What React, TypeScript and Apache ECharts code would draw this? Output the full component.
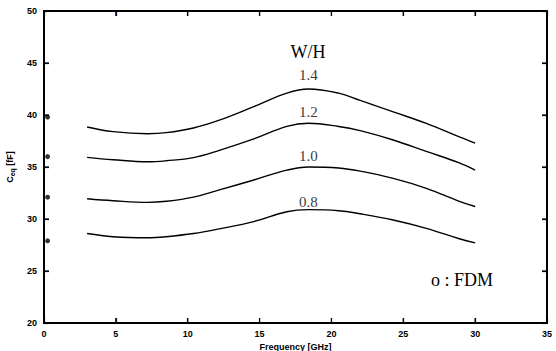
import React, { useEffect, useRef } from "react";
import * as echarts from "echarts";

// Frequency sample points (GHz)
const freq = [3, 4.8, 7.2, 8.5, 10.4, 12.2, 14.6, 16.9, 18.4, 20.5, 22, 24.3, 26.6, 28.9, 30];

// Equivalent capacitance curves (fF) for each W/H ratio
const ceq14 = [38.85, 38.4, 38.2, 38.3, 38.75, 39.5, 40.8, 42.1, 42.5, 42.1, 41.4, 40.3, 39.2, 37.9, 37.3];
const ceq12 = [35.93, 35.7, 35.5, 35.6, 35.9, 36.6, 37.7, 38.9, 39.2, 38.9, 38.5, 37.6, 36.5, 35.4, 34.7];
const ceq10 = [31.95, 31.76, 31.6, 31.7, 32.1, 32.8, 33.75, 34.7, 35.0, 34.9, 34.6, 33.9, 32.95, 31.7, 31.2];
const ceq08 = [28.6, 28.3, 28.2, 28.3, 28.6, 29.05, 29.75, 30.7, 30.9, 30.8, 30.5, 29.9, 29.1, 28.1, 27.7];

const ratios = ["1.4", "1.2", "1.0", "0.8"];
const curves = [ceq14, ceq12, ceq10, ceq08];
const labelLift = [14, 11, 11, 8];

// FDM reference points (static limit)
const fdmFreq = 0.25;
const fdmValues = [39.8, 36.0, 32.1, 27.9];

const xTicks = [0, 35, 5];
const yTicks = [20, 50, 5];
const xTickValues = [5, 10, 15, 20, 25, 30];
const yTickValues = [25, 30, 35, 40, 45];

const INK = "#000";
const FRAME = "#0a0a5a";

export default function App() {
  const ref = useRef<HTMLDivElement>(null);

  useEffect(() => {
    if (!ref.current) return;
    const chart = echarts.init(ref.current, null, { renderer: "svg" });

    const tickFont = {
      fontFamily: "Liberation Sans",
      fontWeight: "bold" as const,
      fontSize: 9,
      color: INK,
    };

    const lineSeries = curves.map((vals, i) => ({
      type: "line",
      name: ratios[i],
      data: freq.map((f, k) => [f, vals[k]]),
      smooth: 0.4,
      showSymbol: false,
      lineStyle: { color: INK, width: 1.4 },
    }));

    // W/H value written just above each curve's peak
    const peakLabels = curves.map((vals, i) => {
      let peakIdx = 0;
      vals.forEach((v, k) => {
        if (v > vals[peakIdx]) peakIdx = k;
      });
      return {
        type: "scatter",
        name: "W/H " + ratios[i],
        data: [[freq[peakIdx], vals[peakIdx]]],
        symbolSize: 0,
        label: {
          show: true,
          formatter: ratios[i],
          position: "inside",
          offset: [0, -labelLift[i]],
          fontFamily: "Liberation Serif",
          fontSize: 15,
          color: INK,
        },
      };
    });

    const axisLineStyle = (w: number) => ({ show: true, onZero: false, lineStyle: { color: FRAME, width: w } });
    const tickStyle = () => ({ show: true, inside: true, length: 5, lineStyle: { color: FRAME, width: 1.2 } });

    chart.setOption({
      animation: false,
      backgroundColor: "#fff",
      grid: {
        left: 44,
        right: 9,
        top: 11,
        bottom: 28,
        containLabel: false,
        outerBoundsMode: "none",
      },
      xAxis: [
        {
          type: "value",
          min: xTicks[0],
          max: xTicks[1],
          interval: xTicks[2],
          name: "Frequency [GHz]",
          nameLocation: "middle",
          nameGap: 19,
          nameTextStyle: { ...tickFont },
          axisLine: axisLineStyle(2),
          axisTick: tickStyle(),
          axisLabel: { ...tickFont, margin: 6 },
          splitLine: { show: false },
        },
        {
          type: "value",
          position: "top",
          min: xTicks[0],
          max: xTicks[1],
          interval: xTicks[2],
          axisLine: axisLineStyle(1.5),
          axisTick: tickStyle(),
          axisLabel: { show: false },
          splitLine: { show: false },
        },
      ],
      yAxis: [
        {
          type: "value",
          min: yTicks[0],
          max: yTicks[1],
          interval: yTicks[2],
          name: "{a|C}{b|eq}{a| [fF]}",
          nameLocation: "middle",
          nameGap: 27,
          nameTextStyle: {
            rich: {
              a: { ...tickFont },
              b: { ...tickFont, fontSize: 7, padding: [5, 0, 0, 0] },
            },
          },
          axisLine: axisLineStyle(2),
          axisTick: tickStyle(),
          axisLabel: { ...tickFont, margin: 7 },
          splitLine: { show: false },
        },
        {
          type: "value",
          position: "right",
          min: yTicks[0],
          max: yTicks[1],
          interval: yTicks[2],
          axisLine: axisLineStyle(2),
          axisTick: tickStyle(),
          axisLabel: { show: false },
          splitLine: { show: false },
        },
      ],
      series: [
        ...lineSeries,
        ...peakLabels,
        {
          type: "scatter",
          name: "FDM",
          data: fdmValues.map((v) => [fdmFreq, v]),
          symbol: "circle",
          symbolSize: 5,
          clip: false,
          itemStyle: { color: INK },
        },
      ],
    });

    // Plot frame and inward ticks, positioned through the axis scales
    const px = (x: number, y: number) =>
      chart.convertToPixel({ xAxisIndex: 0, yAxisIndex: 0 }, [x, y]) as number[];
    const [x0, y0] = px(xTicks[0], yTicks[0]);
    const [x1, y1] = px(xTicks[1], yTicks[1]);
    const frameStyle = { stroke: INK, lineWidth: 2, fill: null };
    const tickLines: any[] = [];
    xTickValues.forEach((v) => {
      const [tx] = px(v, yTicks[0]);
      tickLines.push({ type: "line", shape: { x1: tx, y1: y0, x2: tx, y2: y0 - 5 }, style: { stroke: INK, lineWidth: 1.2 } });
      tickLines.push({ type: "line", shape: { x1: tx, y1: y1, x2: tx, y2: y1 + 5 }, style: { stroke: INK, lineWidth: 1.2 } });
    });
    yTickValues.forEach((v) => {
      const [, ty] = px(xTicks[0], v);
      tickLines.push({ type: "line", shape: { x1: x0, y1: ty, x2: x0 + 5, y2: ty }, style: { stroke: INK, lineWidth: 1.2 } });
      tickLines.push({ type: "line", shape: { x1: x1, y1: ty, x2: x1 - 5, y2: ty }, style: { stroke: INK, lineWidth: 1.2 } });
    });

    chart.setOption({
      graphic: [
        {
          type: "rect",
          z: 50,
          shape: { x: x0, y: y1, width: x1 - x0, height: y0 - y1 },
          style: frameStyle,
        },
        ...tickLines.map((t) => ({ ...t, z: 50 })),
        {
          type: "text",
          x: 308,
          y: 52,
          style: {
            text: "W/H",
            font: '18px "Liberation Serif"',
            fill: INK,
            align: "center",
            verticalAlign: "middle",
          },
        },
        {
          type: "text",
          x: 462,
          y: 280,
          style: {
            text: "o : FDM",
            font: '18px "Liberation Serif"',
            fill: INK,
            align: "center",
            verticalAlign: "middle",
          },
        },
      ],
    });

    return () => chart.dispose();
  }, []);

  return (
    <div
      ref={ref}
      style={{ position: "absolute", left: 0, top: 0, width: 556, height: 351 }}
    />
  );
}
